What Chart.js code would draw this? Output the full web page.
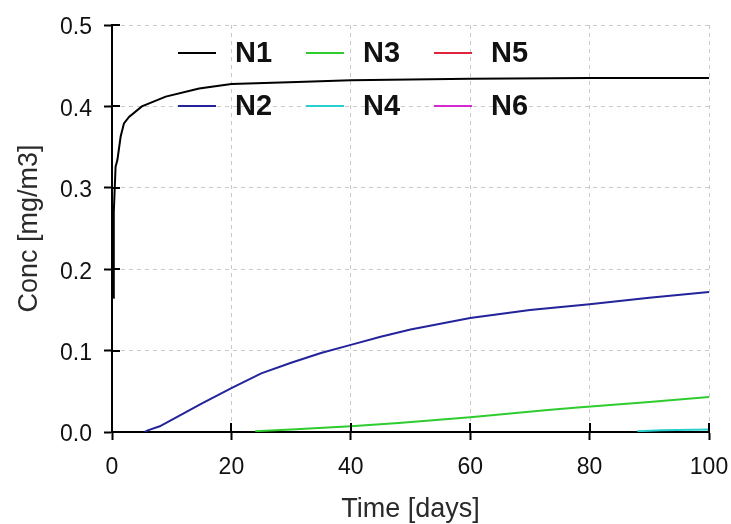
<!DOCTYPE html>
<html lang="en">
<head>
    <meta charset="UTF-8">
    <title>Conc vs Time</title>
    <script src="https://cdn.jsdelivr.net/npm/chart.js"></script>
    <style>
        body {
            margin: 0;
            background: #ffffff;
        }

        .chart-box {
            width: 731px;
            height: 524px;
        }
    </style>
</head>
<body>
    <div class="chart-box">
        <canvas id="concChart" width="731" height="524"></canvas>
    </div>

    <script>
        // Data
        const seriesNames = ['N1', 'N2', 'N3', 'N4', 'N5', 'N6'];
        const seriesColors = ['#000000', '#23239b', '#2ecc2e', '#27cfcf', '#e0233f', '#d42ad4'];

        const n1Days = [0.2, 0.3, 0.6, 0.9, 1.45, 2, 2.85, 5, 9, 14.6, 20, 31, 40, 60, 80, 100];
        const n1Conc = [0.165, 0.27, 0.326, 0.334, 0.363, 0.379, 0.387, 0.400, 0.412, 0.422, 0.4275, 0.430, 0.432, 0.434, 0.435, 0.435];

        const n2Days = [5.5, 6, 8, 10, 15, 20, 25, 30, 35, 40, 45, 50, 60, 70, 80, 90, 100];
        const n2Conc = [0, 0.002, 0.007, 0.015, 0.035, 0.054, 0.072, 0.085, 0.097, 0.107, 0.117, 0.126, 0.140, 0.150, 0.157, 0.165, 0.172];

        const n3Days = [24, 30, 40, 48, 60, 73, 78, 90, 100];
        const n3Conc = [0.001, 0.003, 0.007, 0.011, 0.018, 0.027, 0.030, 0.037, 0.043];

        const n4Days = [88, 92, 100];
        const n4Conc = [0.001, 0.002, 0.003];

        const n5Days = [];
        const n5Conc = [];
        const n6Days = [];
        const n6Conc = [];

        const xTicks = [0, 20, 40, 60, 80, 100];
        const yTicks = [0.0, 0.1, 0.2, 0.3, 0.4, 0.5];

        function toPoints(days, conc) {
            return days.map((d, i) => ({ x: d, y: conc[i] }));
        }

        const allDays = [n1Days, n2Days, n3Days, n4Days, n5Days, n6Days];
        const allConc = [n1Conc, n2Conc, n3Conc, n4Conc, n5Conc, n6Conc];

        const datasets = seriesNames.map((name, i) => ({
            label: name,
            data: toPoints(allDays[i], allConc[i]),
            borderColor: seriesColors[i],
            backgroundColor: seriesColors[i],
            borderWidth: 2,
            pointRadius: 0,
            tension: 0,
            fill: false
        }));

        // Legend drawn inside the plot, in columns of two
        const insideLegend = {
            id: 'insideLegend',
            afterDatasetsDraw(chart) {
                const ctx = chart.ctx;
                const area = chart.chartArea;
                ctx.save();
                ctx.font = 'bold 29px "Liberation Sans", Arial, sans-serif';
                ctx.textBaseline = 'middle';
                ctx.textAlign = 'left';
                chart.data.datasets.forEach((ds, i) => {
                    const col = Math.floor(i / 2);
                    const row = i % 2;
                    const x = area.left + 66 + col * 128;
                    const y = area.top + 28 + row * 53;
                    ctx.strokeStyle = ds.borderColor;
                    ctx.lineWidth = 2;
                    ctx.beginPath();
                    ctx.moveTo(x, y);
                    ctx.lineTo(x + 38, y);
                    ctx.stroke();
                    ctx.fillStyle = '#111111';
                    ctx.fillText(ds.label, x + 57, y + 1);
                });
                ctx.restore();
            }
        };

        // Tick marks that also reach into the plot
        const innerTicks = {
            id: 'innerTicks',
            afterDraw(chart) {
                const ctx = chart.ctx;
                const area = chart.chartArea;
                const xs = chart.scales.x;
                const ys = chart.scales.y;
                ctx.save();
                ctx.strokeStyle = '#000000';
                ctx.lineWidth = 2;
                ctx.beginPath();
                xTicks.forEach(v => {
                    const px = Math.round(xs.getPixelForValue(v));
                    ctx.moveTo(px, area.bottom);
                    ctx.lineTo(px, area.bottom - 9);
                });
                yTicks.forEach(v => {
                    const py = Math.round(ys.getPixelForValue(v));
                    ctx.moveTo(area.left, py);
                    ctx.lineTo(area.left + 8, py);
                });
                ctx.stroke();
                ctx.restore();
            }
        };

        const tickFont = { family: '"Liberation Sans", Arial, sans-serif', size: 23 };
        const titleFont = { family: '"Liberation Sans", Arial, sans-serif', size: 27 };

        const ctx = document.getElementById('concChart').getContext('2d');
        const chart = new Chart(ctx, {
            type: 'line',
            data: { datasets: datasets },
            options: {
                responsive: false,
                animation: false,
                layout: {
                    padding: { top: 25, right: 22, left: 0, bottom: 0 }
                },
                scales: {
                    x: {
                        type: 'linear',
                        min: 0,
                        max: 100,
                        afterBuildTicks: scale => {
                            scale.ticks = xTicks.map(v => ({ value: v }));
                        },
                        afterFit: scale => {
                            scale.height = 92;
                            scale.paddingLeft = 0;
                            scale.paddingRight = 0;
                        },
                        grid: {
                            color: '#c9c9c9',
                            lineWidth: 1,
                            drawTicks: true,
                            tickLength: 8,
                            tickColor: '#000000',
                            tickWidth: 2,
                            tickBorderDash: []
                        },
                        border: {
                            display: true,
                            color: '#000000',
                            width: 2,
                            dash: [4, 4]
                        },
                        ticks: {
                            color: '#111111',
                            font: tickFont,
                            padding: 14,
                            maxRotation: 0,
                            callback: v => String(v)
                        },
                        title: {
                            display: true,
                            text: 'Time [days]',
                            color: '#2a2a2a',
                            font: titleFont,
                            padding: { top: 0, bottom: -2 }
                        }
                    },
                    y: {
                        min: 0,
                        max: 0.5,
                        afterBuildTicks: scale => {
                            scale.ticks = yTicks.map(v => ({ value: v }));
                        },
                        afterFit: scale => {
                            scale.width = 112;
                            scale.paddingTop = 0;
                            scale.paddingBottom = 0;
                        },
                        grid: {
                            color: '#c9c9c9',
                            lineWidth: 1,
                            drawTicks: true,
                            tickLength: 8,
                            tickColor: '#000000',
                            tickWidth: 2,
                            tickBorderDash: []
                        },
                        border: {
                            display: true,
                            color: '#000000',
                            width: 2,
                            dash: [4, 4]
                        },
                        ticks: {
                            color: '#111111',
                            font: tickFont,
                            padding: 12,
                            labelOffset: 3,
                            callback: v => v.toFixed(1)
                        },
                        title: {
                            display: true,
                            text: 'Conc [mg/m3]',
                            color: '#2a2a2a',
                            font: titleFont,
                            padding: { top: 13, bottom: 0 }
                        }
                    }
                },
                plugins: {
                    legend: { display: false },
                    tooltip: { enabled: false }
                }
            },
            plugins: [insideLegend, innerTicks]
        });
    </script>
</body>
</html>
